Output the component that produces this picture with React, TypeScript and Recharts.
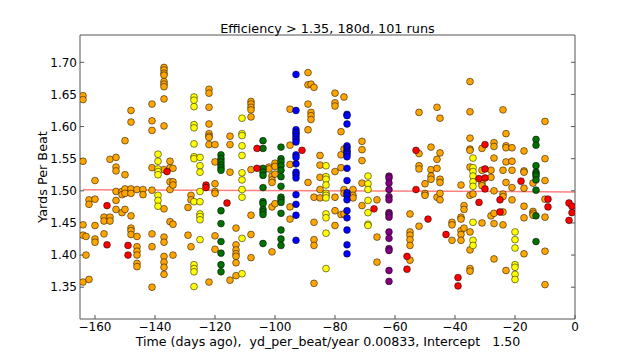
import React from 'react';
import { ScatterChart, Scatter, XAxis, YAxis, ReferenceLine } from 'recharts';

const title = 'Efficiency > 1.35, 180d, 101 runs';
const xLabel = 'Time (days ago),  yd_per_beat/year 0.00833, Intercept   1.50';
const yLabel = 'Yards Per Beat';

const xTicks = [-160, -140, -120, -100, -80, -60, -40, -20, 0];
const yTicks = [1.35, 1.4, 1.45, 1.5, 1.55, 1.6, 1.65, 1.7];
const xDomain: [number, number] = [-165, 0];
const yDomain: [number, number] = [1.3005, 1.7425];

// regression line end points
const fitX = [-164, 0];
const fitY = [1.5017, 1.4983];

type Col = [number, number[]];

const orangeCols: Col[] = [
  [-164, [1.648, 1.642, 1.546, 1.447, 1.431, 1.358]],
  [-163, [1.429, 1.4]],
  [-162, [1.486, 1.479, 1.362]],
  [-160, [1.516, 1.487, 1.446, 1.425, 1.42]],
  [-157, [1.459, 1.453, 1.433]],
  [-155, [1.549, 1.459, 1.453]],
  [-153, [1.552, 1.537, 1.531, 1.499, 1.485, 1.471]],
  [-151, [1.499, 1.494, 1.466]],
  [-150, [1.578, 1.525, 1.503, 1.496, 1.471]],
  [-148, [1.625, 1.607, 1.503, 1.496, 1.461, 1.442, 1.438, 1.432]],
  [-146, [1.502, 1.429, 1.413, 1.406, 1.4, 1.387, 1.382]],
  [-144, [1.502, 1.494]],
  [-141, [1.635, 1.609, 1.594, 1.536, 1.501, 1.433, 1.413, 1.35]],
  [-137, [1.692, 1.688, 1.683, 1.68, 1.67, 1.666, 1.662, 1.643, 1.601, 1.533, 1.472, 1.428, 1.42, 1.398, 1.389, 1.381, 1.37]],
  [-135, [1.546, 1.536, 1.514, 1.502, 1.452]],
  [-134, [1.535, 1.514, 1.509, 1.448, 1.4]],
  [-129, [1.474, 1.431]],
  [-128, [1.493, 1.486, 1.413]],
  [-122, [1.658, 1.652, 1.63, 1.604, 1.589, 1.585, 1.583, 1.572, 1.358]],
  [-120, [1.572, 1.545, 1.511, 1.499, 1.496, 1.43, 1.409]],
  [-115, [1.585, 1.572, 1.529, 1.361]],
  [-113, [1.442, 1.416, 1.408, 1.402, 1.398, 1.388, 1.368]],
  [-108, [1.639, 1.635, 1.63, 1.626, 1.615, 1.533, 1.462, 1.432, 1.396]],
  [-102, [1.537, 1.534]],
  [-101, [1.523, 1.517, 1.513, 1.475, 1.405]],
  [-100, [1.543, 1.538, 1.526, 1.48]],
  [-95, [1.627, 1.571, 1.541, 1.475, 1.456]],
  [-89, [1.684, 1.665, 1.635, 1.595, 1.513]],
  [-88, [1.666, 1.622, 1.617, 1.611]],
  [-87, [1.661, 1.49, 1.451, 1.424, 1.415, 1.356]],
  [-85, [1.555, 1.54, 1.521, 1.502, 1.489]],
  [-80, [1.652, 1.637, 1.632, 1.53, 1.49, 1.469, 1.446]],
  [-78, [1.592, 1.556, 1.536, 1.463]],
  [-77, [1.646, 1.565, 1.502, 1.496, 1.464]],
  [-74, [1.502, 1.493, 1.489]],
  [-71, [1.577, 1.564, 1.547, 1.512, 1.477]],
  [-66, [1.486, 1.428, 1.389]],
  [-55, [1.464, 1.436, 1.431, 1.424, 1.415, 1.392]],
  [-52, [1.622, 1.558, 1.539, 1.534, 1.445]],
  [-50, [1.511, 1.496, 1.493]],
  [-48, [1.568, 1.533, 1.523, 1.518]],
  [-46, [1.63, 1.549, 1.535, 1.49]],
  [-45, [1.613, 1.559, 1.518, 1.513, 1.496, 1.486]],
  [-41, [1.451, 1.447, 1.423]],
  [-38, [1.509, 1.459, 1.456, 1.438, 1.432, 1.423]],
  [-37, [1.477, 1.471, 1.442]],
  [-35, [1.67, 1.623, 1.582, 1.565, 1.563, 1.537, 1.493, 1.436, 1.408, 1.379, 1.375]],
  [-34, [1.495]],
  [-31, [1.566, 1.532, 1.512, 1.508, 1.45]],
  [-28, [1.532, 1.521, 1.461]],
  [-27, [1.575, 1.569, 1.551, 1.5, 1.465, 1.449, 1.394]],
  [-24, [1.626, 1.532, 1.495, 1.491, 1.467, 1.447]],
  [-23, [1.589, 1.57, 1.567, 1.545, 1.513, 1.376]],
  [-21, [1.567, 1.546, 1.532, 1.505, 1.486]],
  [-17, [1.562, 1.531, 1.529, 1.504, 1.476, 1.458, 1.402]],
  [-14, [1.512, 1.468, 1.465, 1.462]],
  [-10, [1.608, 1.55, 1.516, 1.487, 1.459, 1.406, 1.354]],
];

const yellowCols: Col[] = [
  [-139, [1.557, 1.546, 1.534, 1.53, 1.525, 1.493, 1.485, 1.476]],
  [-127, [1.646, 1.641, 1.631, 1.603, 1.598, 1.573, 1.553, 1.55, 1.483, 1.385, 1.379, 1.374, 1.351]],
  [-125, [1.552, 1.539, 1.529, 1.499, 1.483, 1.464, 1.46, 1.455, 1.424]],
  [-111, [1.613, 1.589, 1.586, 1.57, 1.555, 1.528, 1.517, 1.502, 1.49, 1.426, 1.371]],
  [-83, [1.539, 1.522, 1.518, 1.509, 1.496, 1.493, 1.489, 1.464, 1.458, 1.434, 1.379]],
  [-69, [1.523, 1.511, 1.502, 1.485, 1.466, 1.448, 1.446]],
  [-34, [1.551, 1.536, 1.53, 1.523, 1.514, 1.507, 1.451, 1.423, 1.415]],
  [-20, [1.436, 1.424, 1.411, 1.385, 1.381, 1.37, 1.362]],
];

const greenCols: Col[] = [
  [-118, [1.556, 1.55, 1.545, 1.54, 1.536, 1.532, 1.469, 1.449, 1.421, 1.403, 1.385, 1.374]],
  [-104, [1.578, 1.566, 1.535, 1.529, 1.524, 1.505, 1.483, 1.48, 1.471, 1.467, 1.463, 1.418]],
  [-98, [1.568, 1.55, 1.545, 1.539, 1.532, 1.522, 1.507, 1.49, 1.486, 1.482, 1.465, 1.439, 1.425, 1.415]],
  [-13, [1.58, 1.571, 1.539, 1.529, 1.526, 1.523, 1.517, 1.501, 1.461, 1.421]],
];

const blueCols: Col[] = [
  [-93, [1.681, 1.625, 1.595, 1.591, 1.588, 1.584, 1.58, 1.576, 1.556, 1.552, 1.542, 1.529, 1.525, 1.52, 1.494, 1.479, 1.462, 1.423]],
  [-76, [1.619, 1.617, 1.604, 1.57, 1.567, 1.563, 1.56, 1.557, 1.553, 1.535, 1.516, 1.497, 1.493, 1.486, 1.469, 1.458, 1.439, 1.416, 1.402]],
];

const purpleCols: Col[] = [
  [-62, [1.523, 1.52, 1.512, 1.502, 1.491, 1.486, 1.466, 1.463, 1.459, 1.436, 1.426, 1.41, 1.407, 1.376, 1.359]],
];

const redCols: Col[] = [
  [-156, [1.477, 1.416]],
  [-149, [1.415, 1.4]],
  [-136, [1.53]],
  [-123, [1.509, 1.505]],
  [-116, [1.481]],
  [-106, [1.566, 1.535]],
  [-91, [1.563]],
  [-67, [1.472]],
  [-56, [1.398, 1.378]],
  [-53, [1.563, 1.502]],
  [-49, [1.456]],
  [-43, [1.432]],
  [-39, [1.365, 1.352]],
  [-32, [1.519, 1.482]],
  [-30, [1.572, 1.534, 1.52, 1.503]],
  [-25, [1.486, 1.467]],
  [-18, [1.515]],
  [-9, [1.487, 1.475]],
  [-2, [1.481, 1.454]],
  [-1, [1.476, 1.466]],
];

const expand = (cols: Col[]) => cols.flatMap(([x, ys]) => ys.map((y) => ({ x, y })));

const FONT = 'DejaVu Sans, Bitstream Vera Sans, sans-serif';
const FRAME = '#555';

const dot = (fill: string) => (props: any) => (
  <circle cx={props.cx} cy={props.cy} r={3.4} fill={fill} stroke="#000" strokeWidth={0.5} />
);

const fmtX = (v: number) => (v < 0 ? '\u2212' + Math.abs(v) : String(v));
const fmtY = (v: number) => v.toFixed(2);
const blank = () => '';

const tickStyle = { fill: '#000', fontSize: 12, fontFamily: FONT };

export default function App() {
  const series = [
    { name: 'orange', color: '#ffa500', data: expand(orangeCols) },
    { name: 'yellow', color: '#ffff00', data: expand(yellowCols) },
    { name: 'green', color: '#007000', data: expand(greenCols) },
    { name: 'blue', color: '#0000ff', data: expand(blueCols) },
    { name: 'purple', color: '#800080', data: expand(purpleCols) },
    { name: 'red', color: '#ff0000', data: expand(redCols) },
  ];
  return (
    <div style={{ position: 'absolute', left: 0, top: 0, width: 640, height: 356, background: '#fff' }}>
      <ScatterChart width={640} height={356} margin={{ top: 34, right: 64, bottom: 0, left: 0 }}>
        <XAxis
          type="number"
          dataKey="x"
          domain={xDomain}
          ticks={xTicks}
          interval={0}
          allowDataOverflow
          height={37}
          tickSize={-4}
          tickMargin={7}
          tickFormatter={fmtX}
          stroke={FRAME}
          tick={tickStyle}
        />
        <XAxis
          xAxisId="top"
          orientation="top"
          type="number"
          domain={xDomain}
          ticks={xTicks}
          interval={0}
          allowDataOverflow
          height={1}
          tickSize={-4}
          tickFormatter={blank}
          stroke={FRAME}
        />
        <YAxis
          type="number"
          dataKey="y"
          domain={yDomain}
          ticks={yTicks}
          interval={0}
          allowDataOverflow
          width={80}
          tickSize={-4}
          tickMargin={7}
          tickFormatter={fmtY}
          stroke={FRAME}
          tick={tickStyle}
        />
        <YAxis
          yAxisId="right"
          orientation="right"
          type="number"
          domain={yDomain}
          ticks={yTicks}
          interval={0}
          allowDataOverflow
          width={1}
          tickSize={-4}
          tickFormatter={blank}
          stroke={FRAME}
        />
        <ReferenceLine
          segment={[{ x: fitX[0], y: fitY[0] }, { x: fitX[1], y: fitY[1] }]}
          stroke="#ff8080"
          strokeWidth={1.5}
        />
        {series.map((s) => (
          <Scatter key={s.name} data={s.data} fill={s.color} shape={dot(s.color)} isAnimationActive={false} />
        ))}
      </ScatterChart>
      <svg width={640} height={356} style={{ position: 'absolute', left: 0, top: 0, pointerEvents: 'none' }}>
        <text x={327.5} y={33} textAnchor="middle" fontFamily={FONT} fontSize={12.8} fill="#000">
          {title}
        </text>
        <text x={328} y={345.5} textAnchor="middle" fontFamily={FONT} fontSize={12.6} fill="#000" style={{ whiteSpace: 'pre' }}>
          {xLabel}
        </text>
        <text x={47} y={177} transform="rotate(-90 47 177)" textAnchor="middle" fontFamily={FONT} fontSize={12.8} fill="#000">
          {yLabel}
        </text>
      </svg>
    </div>
  );
}
